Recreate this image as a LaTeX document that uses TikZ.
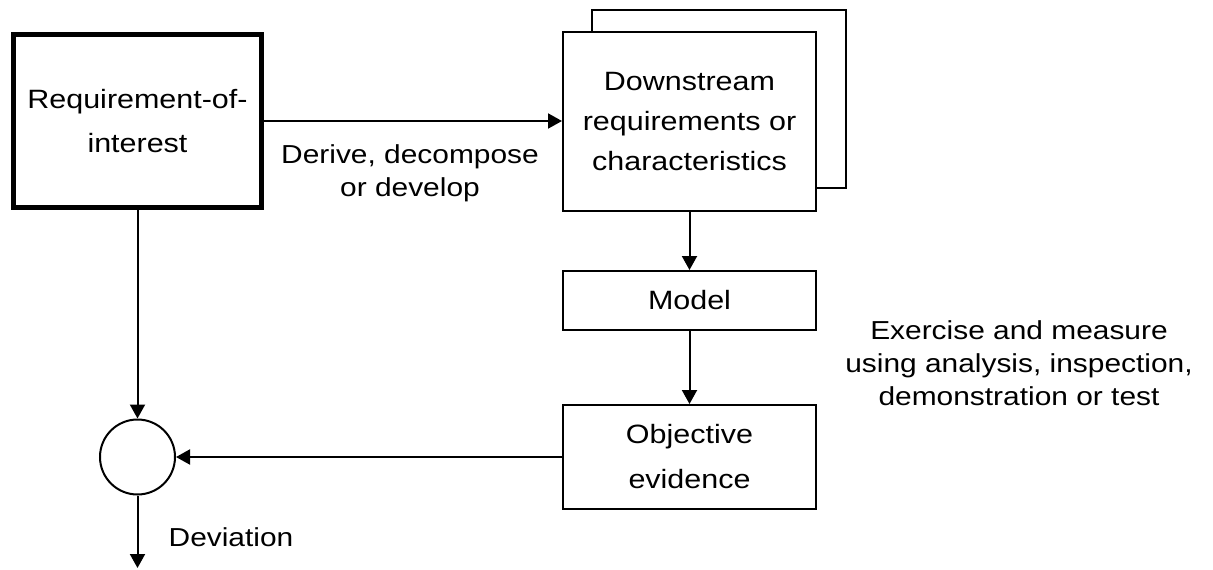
\documentclass[tikz,border=0pt]{standalone}
\usepackage{fontspec}
\setmainfont{Liberation Sans}[FakeStretch=1.15]
\usetikzlibrary{arrows.meta}
\begin{document}
\begin{tikzpicture}[x=1pt,y=-1pt,
  box/.style={draw, line width=2pt, fill=white, inner sep=0pt, align=center},
  arr/.style={line width=2pt, -{Triangle[length=14pt,width=15pt]}},
  lbl/.style={align=center, inner sep=0pt, font=\fontsize{26}{33}\selectfont}]
\useasboundingbox (0,0) rectangle (1213,570);
\node[box, line width=5.5pt, minimum width=248pt, minimum height=173pt,
  font=\fontsize{26.5}{44}\selectfont] (req) at (137.5,121) {Requirement-of-\\interest};
\node[box, minimum width=254pt, minimum height=178pt] (back) at (719,99) {};
\node[box, minimum width=253pt, minimum height=179pt,
  font=\fontsize{26.5}{40}\selectfont] (down) at (689.5,121.5) {Downstream\\requirements or\\characteristics};
\node[box, minimum width=253pt, minimum height=59pt,
  font=\fontsize{26.5}{40}\selectfont] (model) at (689.5,300.5) {Model};
\node[box, minimum width=253pt, minimum height=104pt,
  font=\fontsize{26.5}{45}\selectfont] (obj) at (689.5,457) {Objective\\evidence};
\node[draw, circle, line width=2pt, minimum size=75pt, inner sep=0pt] (circ) at (137.5,457) {};
\coordinate (end) at (137.5,568);
\draw[arr] (req.east) -- (req.east -| down.west);
\draw[arr] (down.south) -- (model.north);
\draw[arr] (model.south) -- (obj.north);
\draw[arr] (obj.west) -- (circ.east);
\draw[arr] (req.south) -- (circ.north);
\draw[arr] (circ.south) -- (end);
\node[lbl] (derive) at (410,173) {Derive, decompose\\or develop};
\node[lbl] (dev) at (231,537) {Deviation};
\node[lbl] (exer) at (1019,363) {Exercise and measure\\using analysis, inspection,\\demonstration or test};
\end{tikzpicture}
\end{document}
